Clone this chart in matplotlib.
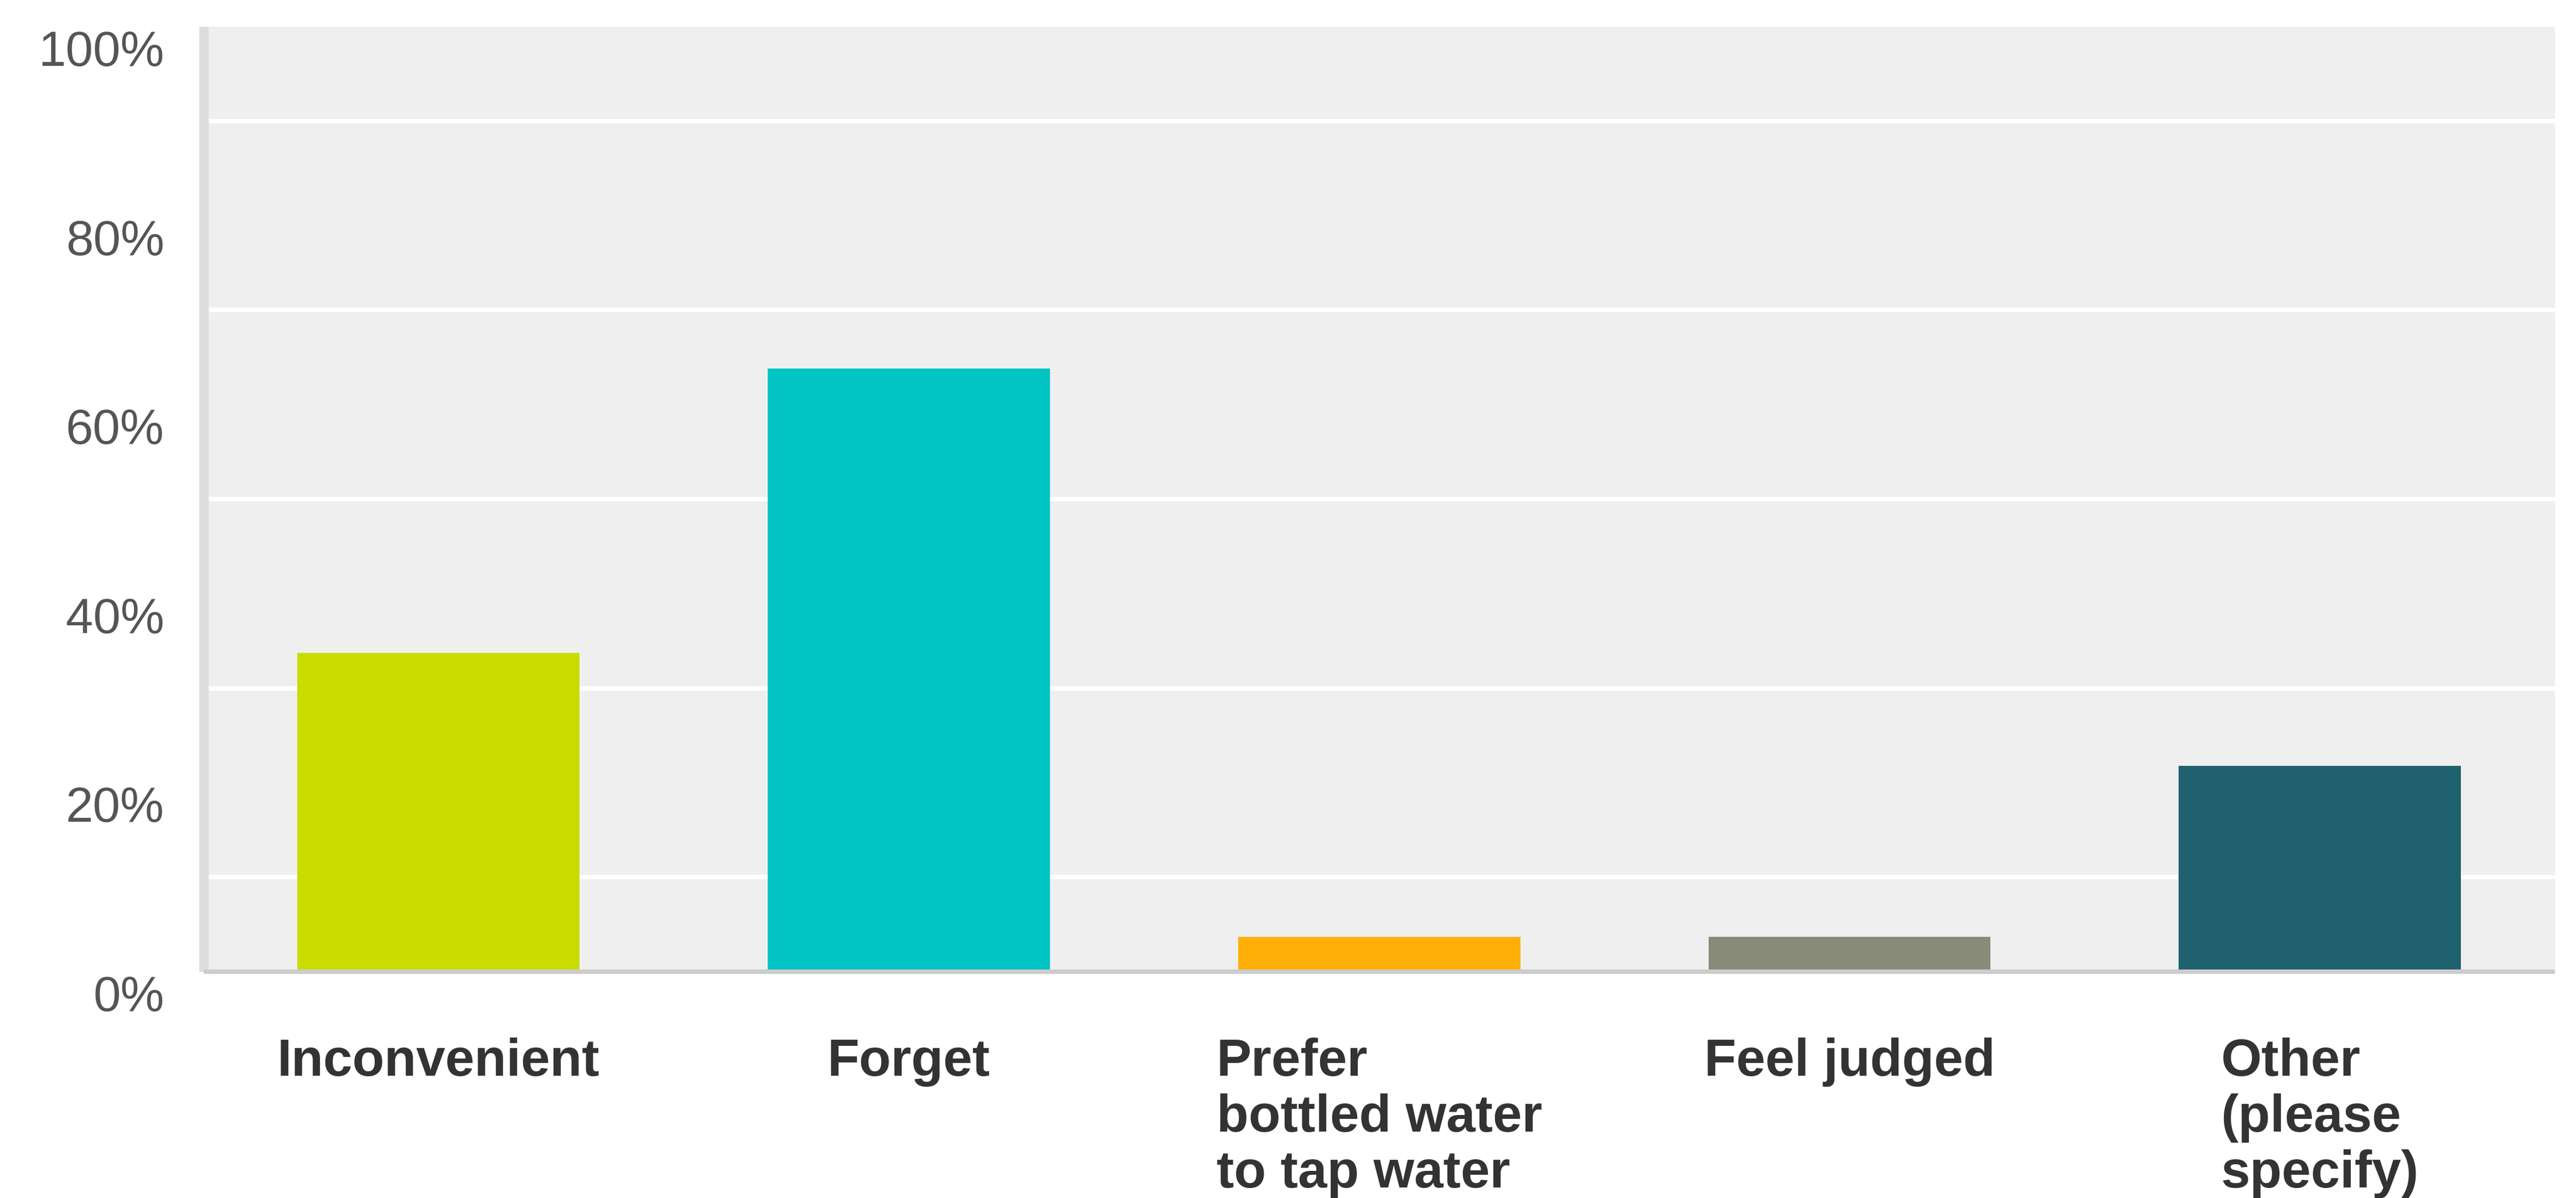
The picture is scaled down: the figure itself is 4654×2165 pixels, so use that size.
import matplotlib
matplotlib.use("Agg")
import matplotlib.pyplot as plt
import matplotlib.transforms as mtransforms
from matplotlib.ticker import MultipleLocator, FuncFormatter

# data
categories = ["Inconvenient", "Forget", "Prefer\nbottled water\nto tap water",
              "Feel judged", "Other\n(please\nspecify)"]
percent = [33.7, 63.8, 3.7, 3.7, 21.8]
bar_colors = ["#c8dc00", "#02c3c3", "#ffaf05", "#898b79", "#1f616e"]
y_ticks = [0, 20, 40, 60, 80, 100]

plt.rcParams['font.family'] = ['Liberation Sans', 'DejaVu Sans']

dpi = 100
fig = plt.figure(figsize=(4654 / dpi, 2165 / dpi), dpi=dpi)
fig.patch.set_facecolor("white")

# axes box in pixels (left, top, right, bottom)
L, T, R, B = 367.5, 48, 4616, 1756
W, H = 4654, 2165
ax = fig.add_axes([L / W, 1 - B / H, (R - L) / W, (B - T) / H])
ax.set_facecolor("#efefef")

x = list(range(len(categories)))
ax.bar(x, percent, width=0.6, color=bar_colors, zorder=2)

ax.set_xlim(-0.5, len(categories) - 0.5)
ax.set_ylim(0, 100)

# white gridlines every 10%
ax.yaxis.set_minor_locator(MultipleLocator(10))
ax.grid(which="minor", axis="y", color="white", linewidth=5.8)
ax.set_axisbelow(True)

ax.set_yticks(y_ticks)
ax.yaxis.set_major_formatter(FuncFormatter(lambda v, p: f"{v:.0f}%"))
ax.set_xticks(x)
ax.set_xticklabels(categories)

ax.tick_params(axis="y", which="both", length=0, pad=51, labelsize=64,
               labelcolor="#555555")
ax.tick_params(axis="x", length=0, pad=86, labelsize=68, labelcolor="#333333")

for lab in ax.get_xticklabels():
    lab.set_fontweight("bold")
    lab.set_multialignment("left")
    lab.set_linespacing(1.17)

# y labels hang below their gridline
offset = mtransforms.ScaledTranslation(0, -71 / dpi, fig.dpi_scale_trans)
for lab in ax.get_yticklabels():
    lab.set_verticalalignment("baseline")
    lab.set_transform(lab.get_transform() + offset)

for s in ["top", "right"]:
    ax.spines[s].set_visible(False)
ax.spines["left"].set_color("#dddddd")
ax.spines["left"].set_linewidth(12.2)
ax.spines["left"].set_capstyle("butt")
ax.spines["bottom"].set_color("#cccccc")
ax.spines["bottom"].set_linewidth(5.8)
ax.spines["bottom"].set_capstyle("butt")
ax.spines["bottom"].set_zorder(3)

fig.savefig("out.png", dpi=dpi, facecolor="white")
